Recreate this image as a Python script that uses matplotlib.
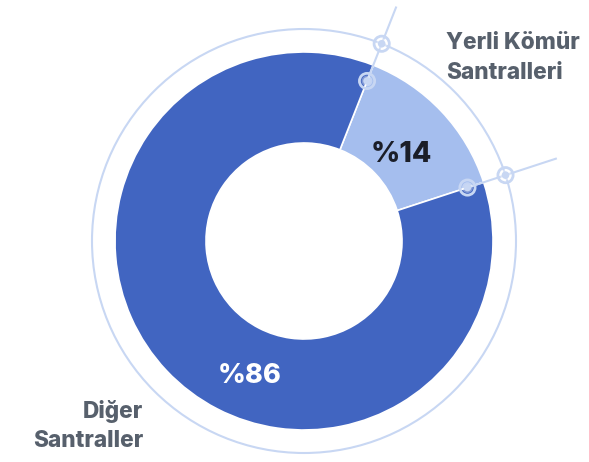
import matplotlib
matplotlib.use("Agg")
import matplotlib.pyplot as plt
import numpy as np
from matplotlib.patches import Circle

categories = ["Yerli Kömür\nSantralleri", "Diğer\nSantraller"]
values = [14, 86]
labels_pct = ["%14", "%86"]

DARK = "#4165C1"
LIGHT = "#A5BEEE"
RING = "#C8D7F3"
GRAY = "#57606C"
FONT = ["Inter", "DejaVu Sans"]

W, H = 589, 462
fig = plt.figure(figsize=(W / 100, H / 100), dpi=100)
ax = fig.add_axes([0, 0, 1, 1])

cx, cy = 304, H - 241
R, r_in, R_ring, R_mark = 189, 98, 212, 172
start = 68.5

ax.pie(values, colors=[LIGHT, DARK], startangle=start, counterclock=False,
       radius=R, center=(cx, cy), frame=True,
       wedgeprops=dict(width=R - r_in, edgecolor="white", linewidth=1.2))
ax.set_xlim(0, W)
ax.set_ylim(0, H)
ax.set_aspect("equal")
ax.axis("off")

ax.add_patch(Circle((cx, cy), R_ring, fill=False, edgecolor=RING, linewidth=1.5, zorder=1))

# boundaries of the small slice
a1 = np.deg2rad(start)
a2 = np.deg2rad(start - values[0] / sum(values) * 360)
for a, L in [(a1, 252), (a2, 266)]:
    ux, uy = np.cos(a), np.sin(a)
    ax.plot([cx + ux * R_mark, cx + ux * L], [cy + uy * R_mark, cy + uy * L],
            color=RING, lw=1.5, zorder=3, solid_capstyle="butt")
    for rr in (R_mark, R_ring):
        px, py = cx + ux * rr, cy + uy * rr
        ax.scatter([px], [py], s=120, facecolor="none", edgecolor=RING, linewidth=2.0, zorder=4)
        ax.scatter([px], [py], s=60, facecolor="white", edgecolor="none", alpha=0.35, zorder=4)
        ax.scatter([px], [py], s=30, facecolor=RING, edgecolor="none", zorder=5)

# percent labels
ax.text(401, H - 155, labels_pct[0],
        fontsize=20.5, fontweight=800, color="#1B1E28", ha="center", va="center",
        family=FONT)
ax.text(250, H - 376, labels_pct[1], fontsize=19.5, fontweight=800, color="white",
        ha="center", va="center", family=FONT)

ax.text(446, H - 58, categories[0], fontsize=16.3, fontweight=800, color=GRAY,
        ha="left", va="center", family=FONT, linespacing=1.45)
ax.text(143, H - 426, categories[1], fontsize=16.3, fontweight=800, color=GRAY,
        ha="right", va="center", family=FONT, linespacing=1.45)

fig.savefig("out.png", dpi=100)
